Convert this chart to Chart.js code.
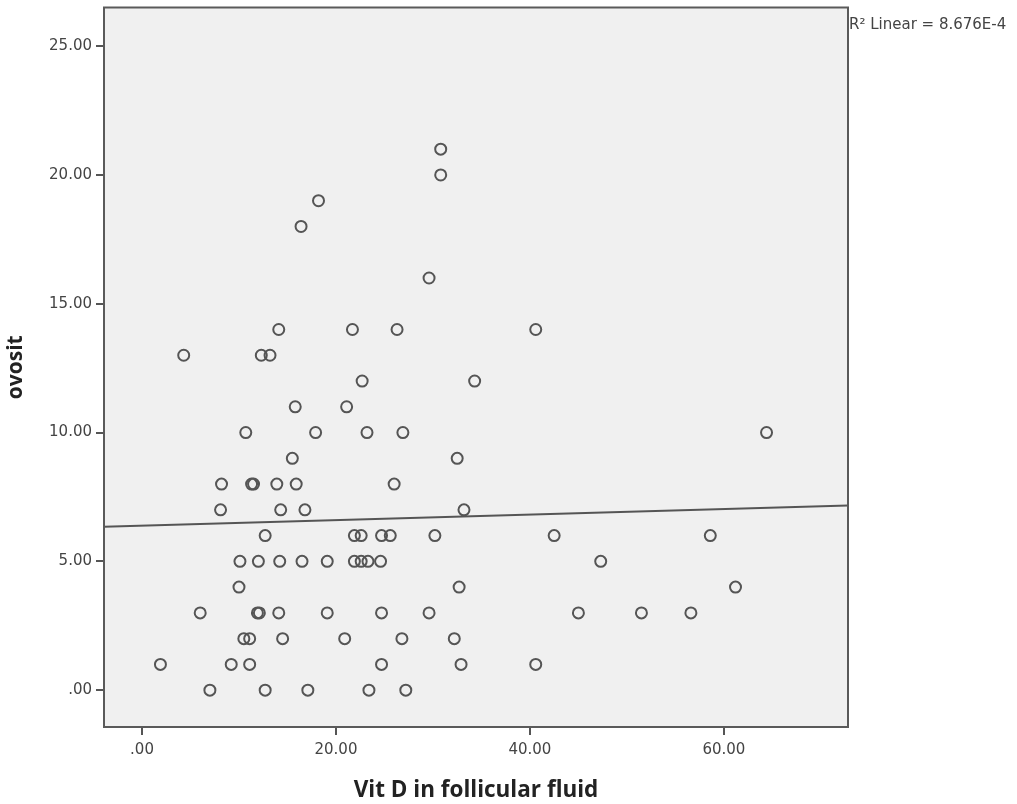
<!DOCTYPE html>
<html><head><meta charset="utf-8">
<script src="https://cdn.jsdelivr.net/npm/chart.js@4"></script>
<style>html,body{margin:0;padding:0;background:#fff}#wrap{width:1017px;height:804px}</style>
</head><body><div id="wrap"><canvas id="c" width="1017" height="804"></canvas></div>
<script>
// ---- data ----
const vitD = [
  7.0, 12.7, 17.1, 23.4, 27.2,                       // ovosit 0
  1.9, 9.2, 11.1, 24.7, 32.9, 40.6,                  // 1
  10.5, 11.1, 14.5, 20.9, 26.8, 32.2,                // 2
  6.0, 11.9, 12.1, 14.1, 19.1, 24.7, 29.6, 45.0, 51.5, 56.6, // 3
  10.0, 32.7, 61.2,                                  // 4
  10.1, 12.0, 14.2, 16.5, 19.1, 21.9, 22.6, 23.3, 24.6, 47.3, // 5
  12.7, 21.9, 22.6, 24.7, 25.6, 30.2, 42.5, 58.6,    // 6
  8.1, 14.3, 16.8, 33.2,                             // 7
  8.2, 11.3, 11.5, 13.9, 15.9, 26.0,                 // 8
  15.5, 32.5,                                        // 9
  10.7, 17.9, 23.2, 26.9, 64.4,                      // 10
  15.8, 21.1,                                        // 11
  22.7, 34.3,                                        // 12
  4.3, 12.3, 13.2,                                   // 13
  14.1, 21.7, 26.3, 40.6,                            // 14
  29.6,                                              // 16
  16.4,                                              // 18
  18.2,                                              // 19
  30.8,                                              // 20
  30.8                                               // 21
];
const ovosit = [
  0,0,0,0,0,
  1,1,1,1,1,1,
  2,2,2,2,2,2,
  3,3,3,3,3,3,3,3,3,3,
  4,4,4,
  5,5,5,5,5,5,5,5,5,5,
  6,6,6,6,6,6,6,6,
  7,7,7,7,
  8,8,8,8,8,8,
  9,9,
  10,10,10,10,10,
  11,11,
  12,12,
  13,13,13,
  14,14,14,14,
  16,
  18,
  19,
  20,
  21
];
const xTicks = [0, 20, 40, 60];
const xTickLabels = ['.00', '20.00', '40.00', '60.00'];
const yTicks = [0, 5, 10, 15, 20, 25];
const yTickLabels = ['.00', '5.00', '10.00', '15.00', '20.00', '25.00'];
const xTitle = 'Vit D in follicular fluid';
const yTitle = 'ovosit';
const fitLabel = 'R\u00B2 Linear = 8.676E-4';

// ---- axis extents ----
const X_MIN = -3.92, X_MAX = 72.8;
const Y_MIN = -1.43, Y_MAX = 26.5;

// ---- least-squares fit line computed from the data ----
const n = vitD.length;
const mx = vitD.reduce((s,v)=>s+v,0)/n;
const my = ovosit.reduce((s,v)=>s+v,0)/n;
let sxy = 0, sxx = 0;
for (let i=0;i<n;i++){ sxy += (vitD[i]-mx)*(ovosit[i]-my); sxx += (vitD[i]-mx)*(vitD[i]-mx); }
const slope = sxy/sxx, intercept = my - slope*mx;

const points = vitD.map((x,i)=>({x, y: ovosit[i]}));
const fitLine = [X_MIN, X_MAX].map(x=>({x, y: intercept + slope*x}));

const TICK_FONT = '"DejaVu Sans", sans-serif';
const TITLE_FONT = '"Open Sans", "DejaVu Sans", sans-serif';

const framePlugin = {
  id: 'frame',
  beforeDraw(chart){
    const {ctx, chartArea:a} = chart;
    ctx.save();
    ctx.fillStyle = '#fff';
    ctx.fillRect(0,0,chart.width,chart.height);
    ctx.fillStyle = '#f0f0f0';
    ctx.fillRect(a.left, a.top, a.width, a.height);
    ctx.restore();
  },
  afterDraw(chart){
    const {ctx, chartArea:a} = chart;
    ctx.save();
    ctx.strokeStyle = '#5a5a5a';
    ctx.lineWidth = 2;
    ctx.strokeRect(a.left, a.top, a.width, a.height);
    ctx.fillStyle = '#444';
    ctx.font = '15px ' + TICK_FONT;
    ctx.textBaseline = 'middle';
    ctx.textAlign = 'left';
    ctx.fillText(fitLabel, a.right + 1, 25);
    ctx.restore();
  }
};

new Chart(document.getElementById('c'), {
  type: 'scatter',
  data: {
    datasets: [
      {
        type: 'scatter',
        data: points,
        pointStyle: 'circle',
        pointRadius: 5.5,
        pointHoverRadius: 5.5,
        pointBorderWidth: 2,
        pointBorderColor: '#555',
        pointBackgroundColor: 'rgba(0,0,0,0)',
        order: 1
      },
      {
        type: 'line',
        data: fitLine,
        borderColor: '#555',
        borderWidth: 2,
        pointRadius: 0,
        fill: false,
        order: 2
      }
    ]
  },
  plugins: [framePlugin],
  options: {
    responsive: false,
    animation: false,
    devicePixelRatio: 1,
    layout: { padding: { left: 0, right: 169, top: 4, bottom: 0 } },
    plugins: { legend: { display: false }, tooltip: { enabled: false } },
    scales: {
      x: {
        type: 'linear',
        position: 'bottom',
        min: X_MIN, max: X_MAX,
        afterBuildTicks: s => { s.ticks = xTicks.map(v=>({value:v})); },
        afterFit: s => { s.height = 77; s.paddingLeft = 0; s.paddingRight = 0; },
        border: { display: false },
        grid: { drawOnChartArea: false, drawTicks: true, tickLength: 8, color: '#555', lineWidth: 2 },
        ticks: {
          autoSkip: false, maxRotation: 0, padding: 6,
          color: '#444', font: { family: TICK_FONT, size: 15 },
          callback: (v, i) => xTickLabels[i]
        },
        title: {
          display: true, text: xTitle, color: '#222',
          font: { family: TITLE_FONT, size: 22.5, weight: 'bold' },
          padding: { top: 0, bottom: 0 }
        }
      },
      y: {
        type: 'linear',
        position: 'left',
        min: Y_MIN, max: Y_MAX,
        afterBuildTicks: s => { s.ticks = yTicks.map(v=>({value:v})); },
        afterFit: s => { s.width = 104; s.paddingTop = 0; s.paddingBottom = 0; },
        border: { display: false },
        grid: { drawOnChartArea: false, drawTicks: true, tickLength: 8, color: '#555', lineWidth: 2 },
        ticks: {
          autoSkip: false, padding: 4,
          color: '#444', font: { family: TICK_FONT, size: 15 },
          callback: (v, i) => yTickLabels[i]
        },
        title: {
          display: true, text: yTitle, color: '#222',
          font: { family: TITLE_FONT, size: 21, weight: 'bold' },
          padding: { top: 3, bottom: 0 }
        }
      }
    }
  }
});
</script>
</body></html>
